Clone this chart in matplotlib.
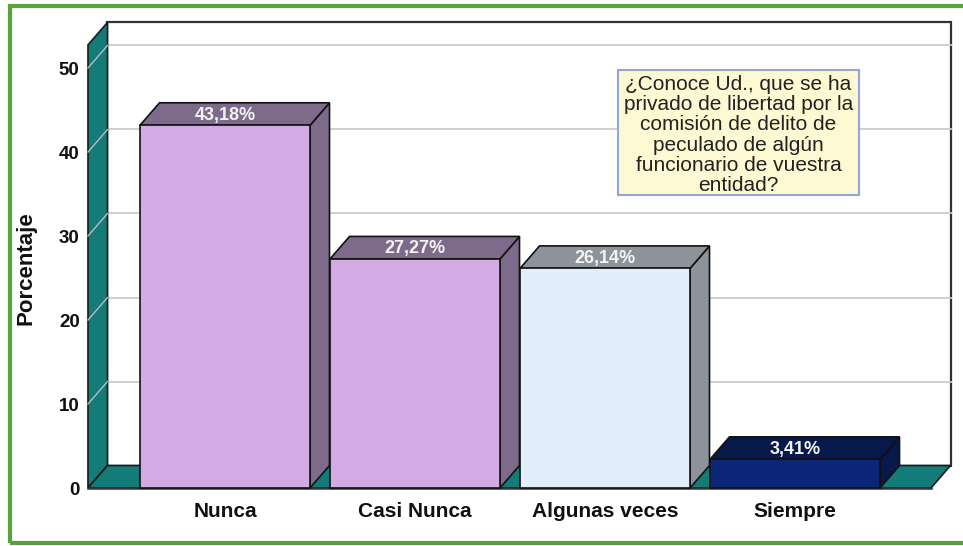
import matplotlib
matplotlib.use('Agg')
import matplotlib.pyplot as plt
from matplotlib.patches import Polygon, Rectangle

categories = ['Nunca', 'Casi Nunca', 'Algunas veces', 'Siempre']
values = [43.18, 27.27, 26.14, 3.41]
labels = ['43,18%', '27,27%', '26,14%', '3,41%']
yticks = [0, 10, 20, 30, 40, 50]

front_colors = ['#d2aae4', '#d2aae4', '#e2eefa', '#0b2677']
shade_colors = ['#7e6a8a', '#7e6a8a', '#8c939b', '#07194a']

teal = '#137c78'
question = ('¿Conoce Ud., que se ha\nprivado de libertad por la\ncomisión de delito de\n'
            'peculado de algún\nfuncionario de vuestra\nentidad?')

# pixel scale: 190 px per category, 8.4 px per percent
px_x, px_y = 190.0, 8.4
dx, dy = 19.5 / px_x, 22.5 / px_y      # depth offset of the 3d effect
half = 85 / px_x
x0, x1 = -0.7211, 3.7158              # front floor edge
ytop = 52.75


def main():
    fig = plt.figure(figsize=(9.63, 5.46), dpi=100)
    ax = fig.add_axes([0, 0, 1, 1])
    ax.set_xlim(-225 / px_x, 738 / px_x)
    ax.set_ylim(-58 / px_y, 488 / px_y)
    ax.axis('off')

    # back wall
    ax.add_patch(Polygon([(x0 + dx, dy), (x1 + dx, dy), (x1 + dx, ytop + dy), (x0 + dx, ytop + dy)],
                         closed=True, facecolor='white', edgecolor='#333333', lw=1.6, zorder=1))
    for v in yticks[1:]:
        ax.plot([x0 + dx, x1 + dx], [v + dy, v + dy], color='#cccccc', lw=1.3, zorder=2)

    # left wall
    ax.add_patch(Polygon([(x0, 0), (x0, ytop), (x0 + dx, ytop + dy), (x0 + dx, dy)],
                         closed=True, facecolor=teal, edgecolor='#1a1a1a', lw=1.2, zorder=3))
    for v in yticks[1:]:
        ax.plot([x0, x0 + dx], [v, v + dy], color='#bbbbbb', lw=1.0, zorder=4)

    # floor
    ax.add_patch(Polygon([(x0, 0), (x1, 0), (x1 + dx, dy), (x0 + dx, dy)],
                         closed=True, facecolor=teal, edgecolor='#1a1a1a', lw=1.2, zorder=3))
    ax.plot([x0, x1], [0, 0], color='#333333', lw=1.8, zorder=4)

    # bars
    for i, v in enumerate(values):
        l, r = i - half, i + half
        ax.add_patch(Polygon([(r, 0), (r, v), (r + dx, v + dy), (r + dx, dy)], closed=True,
                             facecolor=shade_colors[i], edgecolor='#111111', lw=1.2, zorder=5 + i))
        ax.add_patch(Polygon([(l, v), (r, v), (r + dx, v + dy), (l + dx, v + dy)], closed=True,
                             facecolor=shade_colors[i], edgecolor='#111111', lw=1.2, zorder=5 + i))
        ax.add_patch(Rectangle((l, 0), r - l, v, facecolor=front_colors[i],
                               edgecolor='#111111', lw=1.2, zorder=5 + i))
        ax.text(i, v + dy * 0.45, labels[i], ha='center', va='center', color='#f4f4f4',
                fontsize=13, fontweight='bold', family='Liberation Sans', zorder=20)
        ax.text(i, -2.74, categories[i], ha='center', va='center', color='#111111',
                fontsize=15, fontweight='bold', family='Liberation Sans')

    for v in yticks:
        ax.text(-0.765, v - 0.35, str(v), ha='right', va='center', color='#111111',
                fontsize=13.5, fontweight='bold', family='Liberation Sans')
    ax.text(-1.05, 26.2, 'Porcentaje', rotation=90, ha='center', va='center', color='#111111',
            fontsize=16, fontweight='bold', family='Liberation Sans')

    # question box
    bx0, bx1 = (618 - 225) / px_x, (859 - 225) / px_x
    by0, by1 = (488 - 195) / px_y, (488 - 70) / px_y
    ax.add_patch(Rectangle((bx0, by0), bx1 - bx0, by1 - by0, facecolor='#fdf9d2',
                           edgecolor='#97a5d2', lw=1.5, zorder=25))
    ax.text((bx0 + bx1) / 2, (by0 + by1) / 2 - 0.3, question, ha='center', va='center',
            fontsize=15, color='#222222', family='Liberation Sans', linespacing=1.08, zorder=26)

    # outer green frame
    fig.add_artist(Rectangle((10 / 963, 3 / 546), 960 / 963, 537 / 546, transform=fig.transFigure,
                             facecolor='none', edgecolor='#5aa23b', lw=3))

    fig.savefig('out.png', dpi=100)


if __name__ == '__main__':
    main()
